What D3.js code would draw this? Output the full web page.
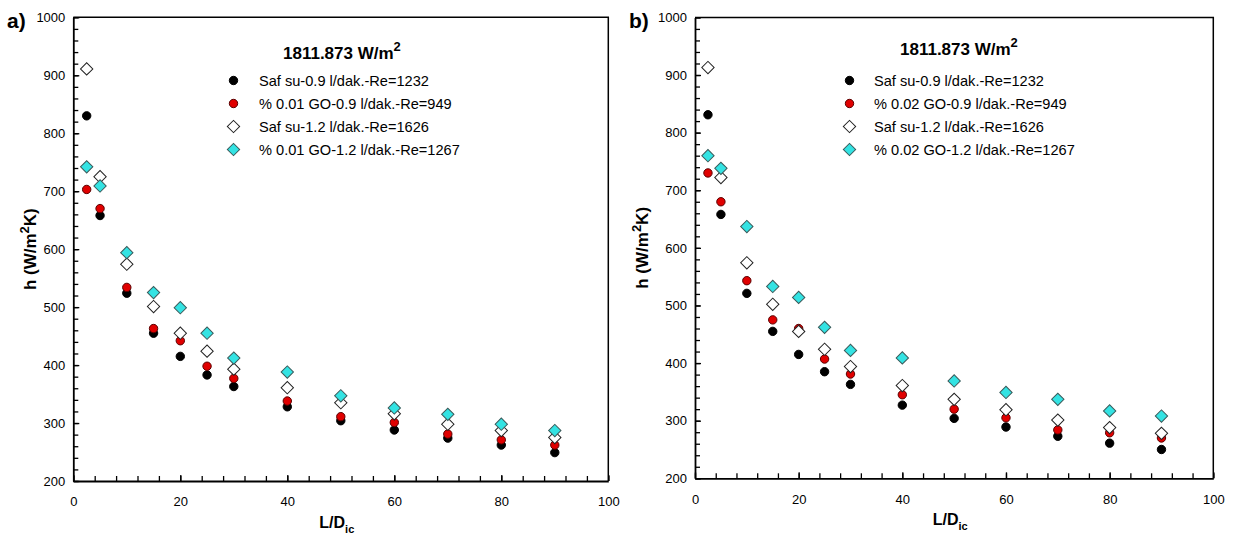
<!DOCTYPE html>
<html>
<head>
<meta charset="utf-8">
<script src="https://cdn.jsdelivr.net/npm/d3@7"></script>
<style>
  html, body { margin: 0; padding: 0; background: #fff; }
  svg { display: block; }
  text { font-family: "Liberation Sans", Arial, sans-serif; fill: #000; }
</style>
</head>
<body>
<svg id="chart" width="1236" height="545"></svg>
<script>
// ---------------- DATA ----------------
const xValues = [2.5, 5, 10, 15, 20, 25, 30, 40, 50, 60, 70, 80, 90];

// Panel a) (% 0.01 GO)
const aSafSu09 = [830, 658, 524, 455, 415, 383, 363, 328, 304, 288, 274, 262, 249];
const aGO09    = [703, 670, 534, 463, 442, 398, 377, 338, 311, 301, 281, 271, 262];
const aSafSu12 = [911, 725, 574, 501, 455, 424, 393, 361, 335, 316, 298, 287, 275];
const aGO12    = [742, 709, 594, 525, 499, 455, 412, 388, 347, 326, 315, 298, 287];

// Panel b) (% 0.02 GO)
const bSafSu09 = [831, 658, 521, 455, 415, 385, 363, 327, 304, 289, 273, 261, 250];
const bGO09    = [730, 680, 543, 475, 460, 407, 381, 345, 320, 305, 284, 279, 270];
const bSafSu12 = [913, 722, 574, 502, 455, 424, 394, 361, 337, 319, 301, 288, 278];
const bGO12    = [760, 738, 637, 533, 514, 462, 422, 409, 369, 349, 337, 317, 308];

const legendA = ["Saf su-0.9 l/dak.-Re=1232", "% 0.01 GO-0.9 l/dak.-Re=949",
                 "Saf su-1.2 l/dak.-Re=1626", "% 0.01 GO-1.2 l/dak.-Re=1267"];
const legendB = ["Saf su-0.9 l/dak.-Re=1232", "% 0.02 GO-0.9 l/dak.-Re=949",
                 "Saf su-1.2 l/dak.-Re=1626", "% 0.02 GO-1.2 l/dak.-Re=1267"];

const xTicks = [0, 20, 40, 60, 80, 100];
const yTicks = [200, 300, 400, 500, 600, 700, 800, 900, 1000];
const titleText = "1811.873 W/m";

// marker styles (one per series, same order as data)
const markerStyles = [
  { shape: "circle",  fill: "#000000", stroke: "#000000" },
  { shape: "circle",  fill: "#e00000", stroke: "#5a0000" },
  { shape: "diamond", fill: "#ffffff", stroke: "#222222" },
  { shape: "diamond", fill: "#33e3e3", stroke: "#3a5a5a" }
];

// ---------------- DRAW ----------------
const svg = d3.select("#chart");

const circlePath = d3.symbol().type(d3.symbolCircle).size(Math.PI * 4.2 * 4.2)();
const diamondPath = d3.symbol().type(d3.symbolSquare).size(76)();

function marker(g, style) {
  const p = g.append("path")
    .attr("d", style.shape === "circle" ? circlePath : diamondPath)
    .attr("fill", style.fill)
    .attr("stroke", style.stroke)
    .attr("stroke-width", 1);
  if (style.shape === "diamond") p.attr("transform", "rotate(45)");
  return p;
}

function drawPanel(cfg) {
  const x = d3.scaleLinear().domain([0, 100]).range([cfg.left, cfg.right]);
  const y = d3.scaleLinear().domain([200, 1000]).range([cfg.bottom, cfg.top]);
  const g = svg.append("g");
  const fmt = d3.format("d");

  // frame (top & right)
  g.append("path")
    .attr("d", `M${cfg.left},${cfg.top}H${cfg.right}V${cfg.bottom}`)
    .attr("fill", "none").attr("stroke", "#000").attr("stroke-width", 1.5);

  // bottom axis: minor ticks
  g.append("g").attr("transform", `translate(0,${cfg.bottom})`)
    .call(d3.axisTop(x).tickValues(d3.range(0, 101, 4)).tickSize(5).tickFormat(""))
    .call(s => s.select(".domain").remove())
    .selectAll("line").attr("stroke", "#000").attr("stroke-width", 1.3);
  // bottom axis: major
  const xa = g.append("g").attr("transform", `translate(0,${cfg.bottom})`)
    .call(d3.axisBottom(x).tickValues(xTicks).tickFormat(fmt).tickSize(0).tickPadding(16).tickSizeOuter(0));
  xa.select(".domain").attr("stroke", "#000").attr("stroke-width", 1.8);
  xa.selectAll("text").style("font-size", "13px").attr("fill", "#222")
    .style("font-family", "'Liberation Sans', Arial, sans-serif");
  g.append("g").attr("transform", `translate(0,${cfg.bottom})`)
    .call(d3.axisTop(x).tickValues(xTicks).tickSize(6).tickFormat(""))
    .call(s => s.select(".domain").remove())
    .selectAll("line").attr("stroke", "#000").attr("stroke-width", 1.3);

  // left axis: minor
  g.append("g").attr("transform", `translate(${cfg.left},0)`)
    .call(d3.axisRight(y).tickValues(d3.range(200, 1001, 20)).tickSize(5).tickFormat(""))
    .call(s => s.select(".domain").remove())
    .selectAll("line").attr("stroke", "#000").attr("stroke-width", 1.3);
  const ya = g.append("g").attr("transform", `translate(${cfg.left},0)`)
    .call(d3.axisLeft(y).tickValues(yTicks).tickFormat(fmt).tickSize(0).tickPadding(8).tickSizeOuter(0));
  ya.select(".domain").attr("stroke", "#000").attr("stroke-width", 1.8);
  ya.selectAll("text").style("font-size", "13px").attr("fill", "#222")
    .style("font-family", "'Liberation Sans', Arial, sans-serif");
  g.append("g").attr("transform", `translate(${cfg.left},0)`)
    .call(d3.axisRight(y).tickValues(yTicks).tickSize(6).tickFormat(""))
    .call(s => s.select(".domain").remove())
    .selectAll("line").attr("stroke", "#000").attr("stroke-width", 1.3);

  // series
  cfg.series.forEach((vals, i) => {
    const sg = g.append("g");
    xValues.forEach((xv, j) => {
      const mg = sg.append("g").attr("transform", `translate(${x(xv)},${y(vals[j])})`);
      marker(mg, markerStyles[i]);
    });
  });

  // panel letter
  g.append("text").attr("x", cfg.letterX).attr("y", 28)
    .style("font-size", "21px").style("font-weight", "bold").text(cfg.letter);

  // title
  const t = g.append("text").attr("x", cfg.titleX).attr("y", cfg.titleY)
    .style("font-size", "17px").style("font-weight", "bold").text(titleText);
  t.append("tspan").attr("dy", -8).style("font-size", "13px").text("2");

  // legend
  cfg.legend.forEach((lab, i) => {
    const cy = 80.5 + i * 23;
    const mg = g.append("g").attr("transform", `translate(${cfg.legSymX},${cy})`);
    marker(mg, markerStyles[i]);
    g.append("text").attr("x", cfg.legTextX).attr("y", cy + 5.5)
      .style("font-size", "14.6px").attr("fill", "#222").text(lab);
  });

  // y label
  const yl = g.append("text")
    .attr("transform", `translate(${cfg.yLabelX},${(cfg.top + cfg.bottom) / 2}) rotate(-90)`)
    .attr("text-anchor", "middle")
    .style("font-size", "17px").style("font-weight", "bold");
  yl.append("tspan").text("h (W/m");
  yl.append("tspan").attr("dy", -7).style("font-size", "13px").text("2");
  yl.append("tspan").attr("dy", 7).text("K)");

  // x label
  const xl = g.append("text")
    .attr("x", (cfg.left + cfg.right) / 2 - 4).attr("y", cfg.bottom + 47)
    .attr("text-anchor", "middle")
    .style("font-size", "16px").style("font-weight", "bold");
  xl.append("tspan").text("L/D");
  xl.append("tspan").attr("dy", 5).style("font-size", "11px").text("ic");
}

drawPanel({
  letter: "a)", letterX: 7,
  left: 73.3, right: 608.3, top: 17.3, bottom: 481,
  series: [aSafSu09, aGO09, aSafSu12, aGO12],
  legend: legendA,
  titleX: 283, titleY: 59,
  legSymX: 233.5, legTextX: 259,
  yLabelX: 36
});

drawPanel({
  letter: "b)", letterX: 629,
  left: 695, right: 1213.3, top: 17.4, bottom: 478.3,
  series: [bSafSu09, bGO09, bSafSu12, bGO12],
  legend: legendB,
  titleX: 900, titleY: 55,
  legSymX: 849.5, legTextX: 874,
  yLabelX: 648
});
</script>
</body>
</html>
